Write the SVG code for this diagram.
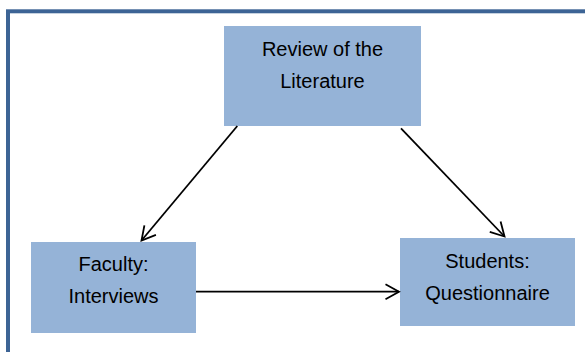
<svg xmlns="http://www.w3.org/2000/svg" width="585" height="352" viewBox="0 0 585 352">
<style>
.box{fill:#95b3d7;}
.lbl{font-family:"Liberation Sans",Arial,sans-serif;font-size:20px;fill:#000;text-anchor:middle;}
.conn{stroke:#000;stroke-width:1.8;fill:none;}
</style>
<defs>
<marker id="ah" markerUnits="userSpaceOnUse" viewBox="-16 -10 20 20" refX="0" refY="0" markerWidth="20" markerHeight="20" orient="auto">
<polyline points="-13.5,-7.5 0,0 -13.5,7.5" fill="none" stroke="#000" stroke-width="1.8"/>
</marker>
</defs>
<rect x="8" y="11.3" width="600" height="360" fill="none" stroke="#3d6495" stroke-width="4"/>
<g id="review">
<rect class="box" x="224" y="26" width="197" height="100"/>
<text class="lbl" x="322.5" y="56">Review of the</text>
<text class="lbl" x="322.5" y="87.5">Literature</text>
</g>
<g id="faculty">
<rect class="box" x="31" y="242" width="165" height="91"/>
<text class="lbl" x="113.5" y="271">Faculty:</text>
<text class="lbl" x="113.5" y="303">Interviews</text>
</g>
<g id="students">
<rect class="box" x="400" y="238" width="175" height="88"/>
<text class="lbl" x="487.5" y="268">Students:</text>
<text class="lbl" x="487.5" y="299.5">Questionnaire</text>
</g>
<g id="connectors">
<line class="conn" x1="237.3" y1="126" x2="141.5" y2="240.5" marker-end="url(#ah)"/>
<line class="conn" x1="401" y1="128.3" x2="504.5" y2="236.5" marker-end="url(#ah)"/>
<line class="conn" x1="196" y1="291.7" x2="399" y2="291.7" marker-end="url(#ah)"/>
</g>
</svg>
